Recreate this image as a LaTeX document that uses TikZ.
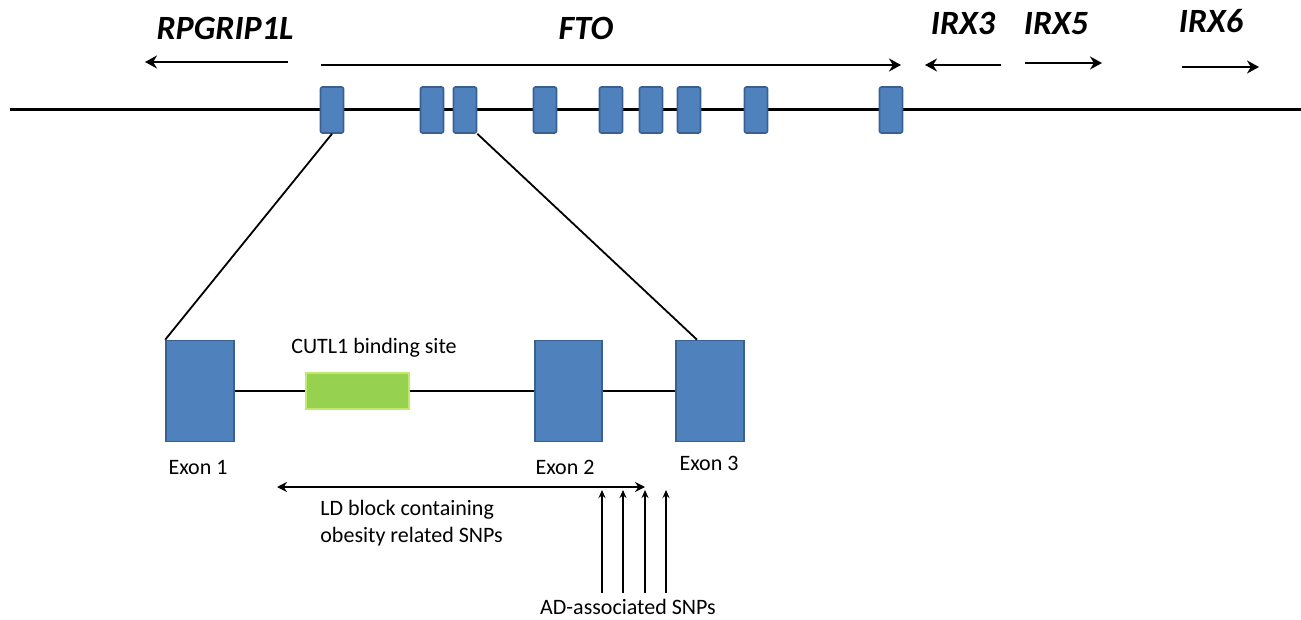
\documentclass[tikz,border=0pt]{standalone}
\usepackage{fontspec}
\setmainfont{Carlito}
\usetikzlibrary{arrows.meta}
\definecolor{exonblue}{RGB}{79,129,189}
\definecolor{exonedge}{RGB}{58,96,146}
\definecolor{sitegreen}{RGB}{150,210,80}
\definecolor{siteedge}{RGB}{190,235,110}
\tikzset{
  smallexon/.style={draw=exonedge,fill=exonblue,line width=0.8pt,rounded corners=1pt,inner sep=0pt,minimum width=11.5pt,minimum height=23pt},
  bigexon/.style={draw=exonedge,fill=exonblue,line width=0.8pt,inner sep=0pt,minimum width=34pt,minimum height=50.5pt},
  gene/.style={font=\fontsize{17}{20}\selectfont\bfseries\itshape,anchor=base,inner sep=0pt},
  lbl/.style={font=\fontsize{11}{13.5}\selectfont,anchor=base,inner sep=0pt},
  genearrow/.style={line width=1.3pt,-{Stealth[length=6pt,width=6.5pt]}},
}

\begin{document}
\begin{tikzpicture}[x=0.5pt,y=-0.5pt]
\useasboundingbox (0,0) rectangle (1301,620);
% chromosome with the FTO exons
\coordinate (chrL) at (10,110);
\coordinate (chrR) at (1301,110);
\draw[line width=1.5pt] (chrL) -- (chrR);
\foreach \ex [count=\i] in {332,432,465,545,611,651,689,756,891}
  \node[smallexon] (e\i) at (\ex,110) {};
% genes
\node[gene] (rpg) at (225,40) {RPGRIP1L};
\node[gene] (fto) at (586,40) {FTO};
\node[gene] (irx3) at (963,35) {IRX3};
\node[gene] (irx5) at (1056,35) {IRX5};
\node[gene] (irx6) at (1211,33) {IRX6};
\coordinate (rpgA) at (288,62);  \coordinate (rpgB) at (145,62);
\coordinate (ftoA) at (321,65);  \coordinate (ftoB) at (901,65);
\coordinate (irx3A) at (1001,65); \coordinate (irx3B) at (925,65);
\coordinate (irx5A) at (1025,63); \coordinate (irx5B) at (1102,63);
\coordinate (irx6A) at (1182,67); \coordinate (irx6B) at (1259,67);
\draw[genearrow] (rpgA) -- (rpgB);
\draw[genearrow] (ftoA) -- (ftoB);
\draw[genearrow] (irx3A) -- (irx3B);
\draw[genearrow] (irx5A) -- (irx5B);
\draw[genearrow] (irx6A) -- (irx6B);
% zoom on exons 1-3
\node[bigexon] (bx1) at (200,391) {};
\node[bigexon,minimum width=33.5pt] (bx2) at (568.5,391) {};
\node[bigexon] (bx3) at (710,391) {};
\node[draw=siteedge,fill=sitegreen,line width=0.8pt,inner sep=0pt,minimum width=51.5pt,minimum height=18pt] (site) at (357.5,391) {};
\draw[line width=0.9pt] (bx1) -- (site) -- (bx2) -- (bx3);
\draw[line width=0.9pt] (e1.south) -- (bx1.north west);
\draw[line width=0.9pt] (e3.south east) -- ([xshift=-6.5pt]bx3.north);
\node[lbl] (cutl) at (374,353) {CUTL1 binding site};
\node[lbl] (ex1) at (198,474) {Exon 1};
\node[lbl] (ex2) at (565,474) {Exon 2};
\node[lbl] (ex3) at (709,470) {Exon 3};
% LD block and SNPs
\coordinate (ldL) at (277,487);
\coordinate (ldR) at (645,487);
\draw[line width=0.8pt,{Stealth[length=5pt,width=5pt]}-{Stealth[length=5pt,width=5pt]}] (ldL) -- (ldR);
\node[lbl,anchor=base west,align=left] (ldtxt) at (320,542) {LD block containing\\obesity related SNPs};
\foreach \sx [count=\i] in {602,623,645,666} {
  \coordinate (snp\i) at (\sx,593);
  \coordinate (snptip\i) at (\sx,490);
  \draw[line width=0.6pt,-{Stealth[length=4pt,width=3.5pt]}] (snp\i) -- (snptip\i);
}
\node[lbl] (adtxt) at (628,614) {AD-associated SNPs};
\end{tikzpicture}
\end{document}
